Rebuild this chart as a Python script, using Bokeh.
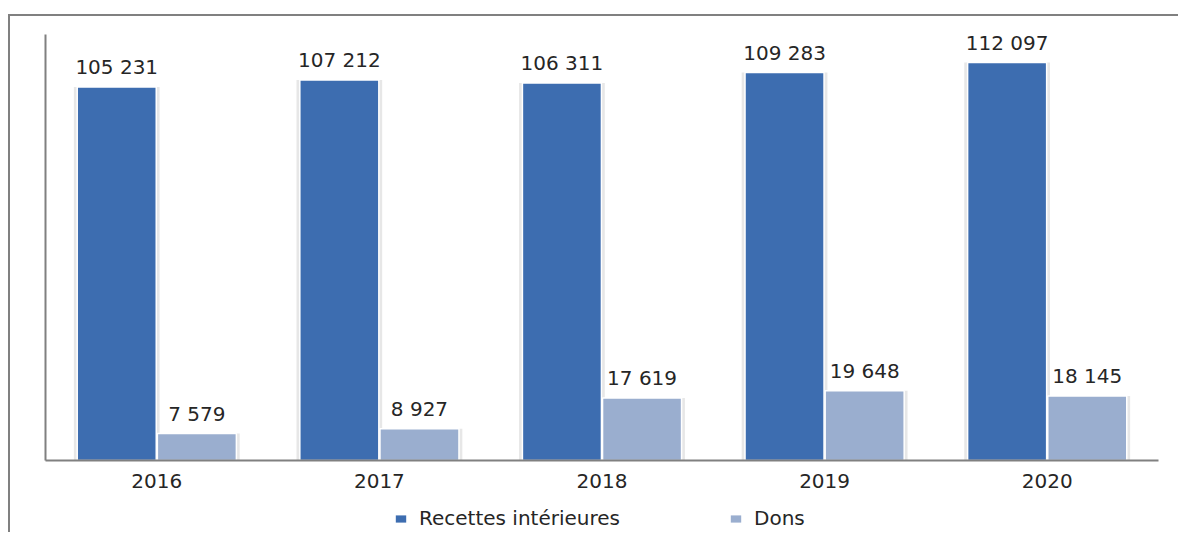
from bokeh.plotting import figure
from bokeh.layouts import column
from bokeh.models import ColumnDataSource, FactorRange, Range1d, Legend, LegendItem
from bokeh.transform import dodge
from bokeh.core.properties import value
from bokeh.embed import file_html
from bokeh.resources import INLINE

years = ["2016", "2017", "2018", "2019", "2020"]
recettes = [105231, 107212, 106311, 109283, 112097]
dons = [7579, 8927, 17619, 19648, 18145]
series_names = ["Recettes intérieures", "Dons"]

def fmt(v):
    return f"{v:,}".replace(",", " ")

src = ColumnDataSource(dict(
    year=years,
    recettes=recettes,
    dons=dons,
    rec_lbl=[fmt(v) for v in recettes],
    don_lbl=[fmt(v) for v in dons],
))

BLUE = "#3D6DB0"
LIGHT = "#9AAECF"
TXT = "#262626"
GRAY = "#808080"
FONT = "DejaVu Sans"
FS = "20px"

FIG_W = 1168

p = figure(
    width=FIG_W, height=486,
    x_range=FactorRange(factors=years, range_padding=0),
    y_range=Range1d(0, 120000),
    output_backend="svg", toolbar_location=None,
    min_border_left=35, min_border_right=20, min_border_top=18, min_border_bottom=42,
)
p.outline_line_color = None
p.xgrid.grid_line_color = None
p.ygrid.grid_line_color = None
p.background_fill_color = "white"
p.border_fill_color = "white"

W = 0.355
OFF = 0.18
SH = 0.03

# faint shadows
p.vbar(x=dodge("year", -OFF, range=p.x_range), top="recettes", width=W + SH, source=src,
       fill_color="#d0d0d0", fill_alpha=0.5, line_color=None)
p.vbar(x=dodge("year", OFF, range=p.x_range), top="dons", width=W + SH, source=src,
       fill_color="#d0d0d0", fill_alpha=0.5, line_color=None)

p.vbar(x=dodge("year", -OFF, range=p.x_range), top="recettes", width=W, source=src,
       fill_color=BLUE, line_color="white", line_width=1.5)
p.vbar(x=dodge("year", OFF, range=p.x_range), top="dons", width=W, source=src,
       fill_color=LIGHT, line_color="white", line_width=1.5)

p.text(x=dodge("year", -OFF, range=p.x_range), y="recettes", text="rec_lbl", source=src,
       text_align="center", text_baseline="alphabetic", y_offset=-20,
       text_font=value(FONT), text_font_size=FS, text_color=TXT)
p.text(x=dodge("year", OFF, range=p.x_range), y="dons", text="don_lbl", source=src,
       text_align="center", text_baseline="alphabetic", y_offset=-20,
       text_font=value(FONT), text_font_size=FS, text_color=TXT)

p.yaxis.ticker = []
p.yaxis.major_tick_line_color = None
p.yaxis.minor_tick_line_color = None
p.yaxis.axis_line_color = GRAY
p.yaxis.axis_line_width = 2
p.yaxis.major_label_standoff = 0

p.xaxis.axis_line_color = GRAY
p.xaxis.axis_line_width = 2
p.xaxis.major_tick_line_color = None
p.xaxis.major_tick_out = 0
p.xaxis.major_label_standoff = 13
p.xaxis.major_label_text_font = FONT
p.xaxis.major_label_text_font_size = FS
p.xaxis.major_label_text_color = TXT

# legend strip (zero-height key renderers, only used for the legend swatches)
lf = figure(
    width=FIG_W, height=30,
    x_range=Range1d(0, 1), y_range=Range1d(0, 1),
    output_backend="svg", toolbar_location=None,
    min_border=0,
)
lf.axis.visible = False
lf.grid.visible = False
lf.outline_line_color = None
lf.background_fill_color = "white"
lf.border_fill_color = "white"
k1 = lf.vbar(x=[0.5], bottom=[0], top=[0], width=0.0, fill_color=BLUE, line_color=None)
k2 = lf.vbar(x=[0.5], bottom=[0], top=[0], width=0.0, fill_color=LIGHT, line_color=None)

legend = Legend(items=[LegendItem(label=series_names[0], renderers=[k1]),
                       LegendItem(label=series_names[1], renderers=[k2])],
                orientation="horizontal", location=(349, 2))
legend.border_line_color = None
legend.background_fill_alpha = 0
legend.label_text_font = FONT
legend.label_text_font_size = FS
legend.label_text_color = TXT
legend.glyph_width = 13
legend.glyph_height = 9
legend.label_standoff = 12
legend.spacing = 109
legend.margin = 0
legend.padding = 2
lf.add_layout(legend, "center")

root = column(p, lf, spacing=0)
root.margin = (14, 0, 0, 8)
root.styles = {"border-top": "2px solid #808080", "border-left": "2px solid #808080"}

open("out.html", "w").write(file_html(root, INLINE))
